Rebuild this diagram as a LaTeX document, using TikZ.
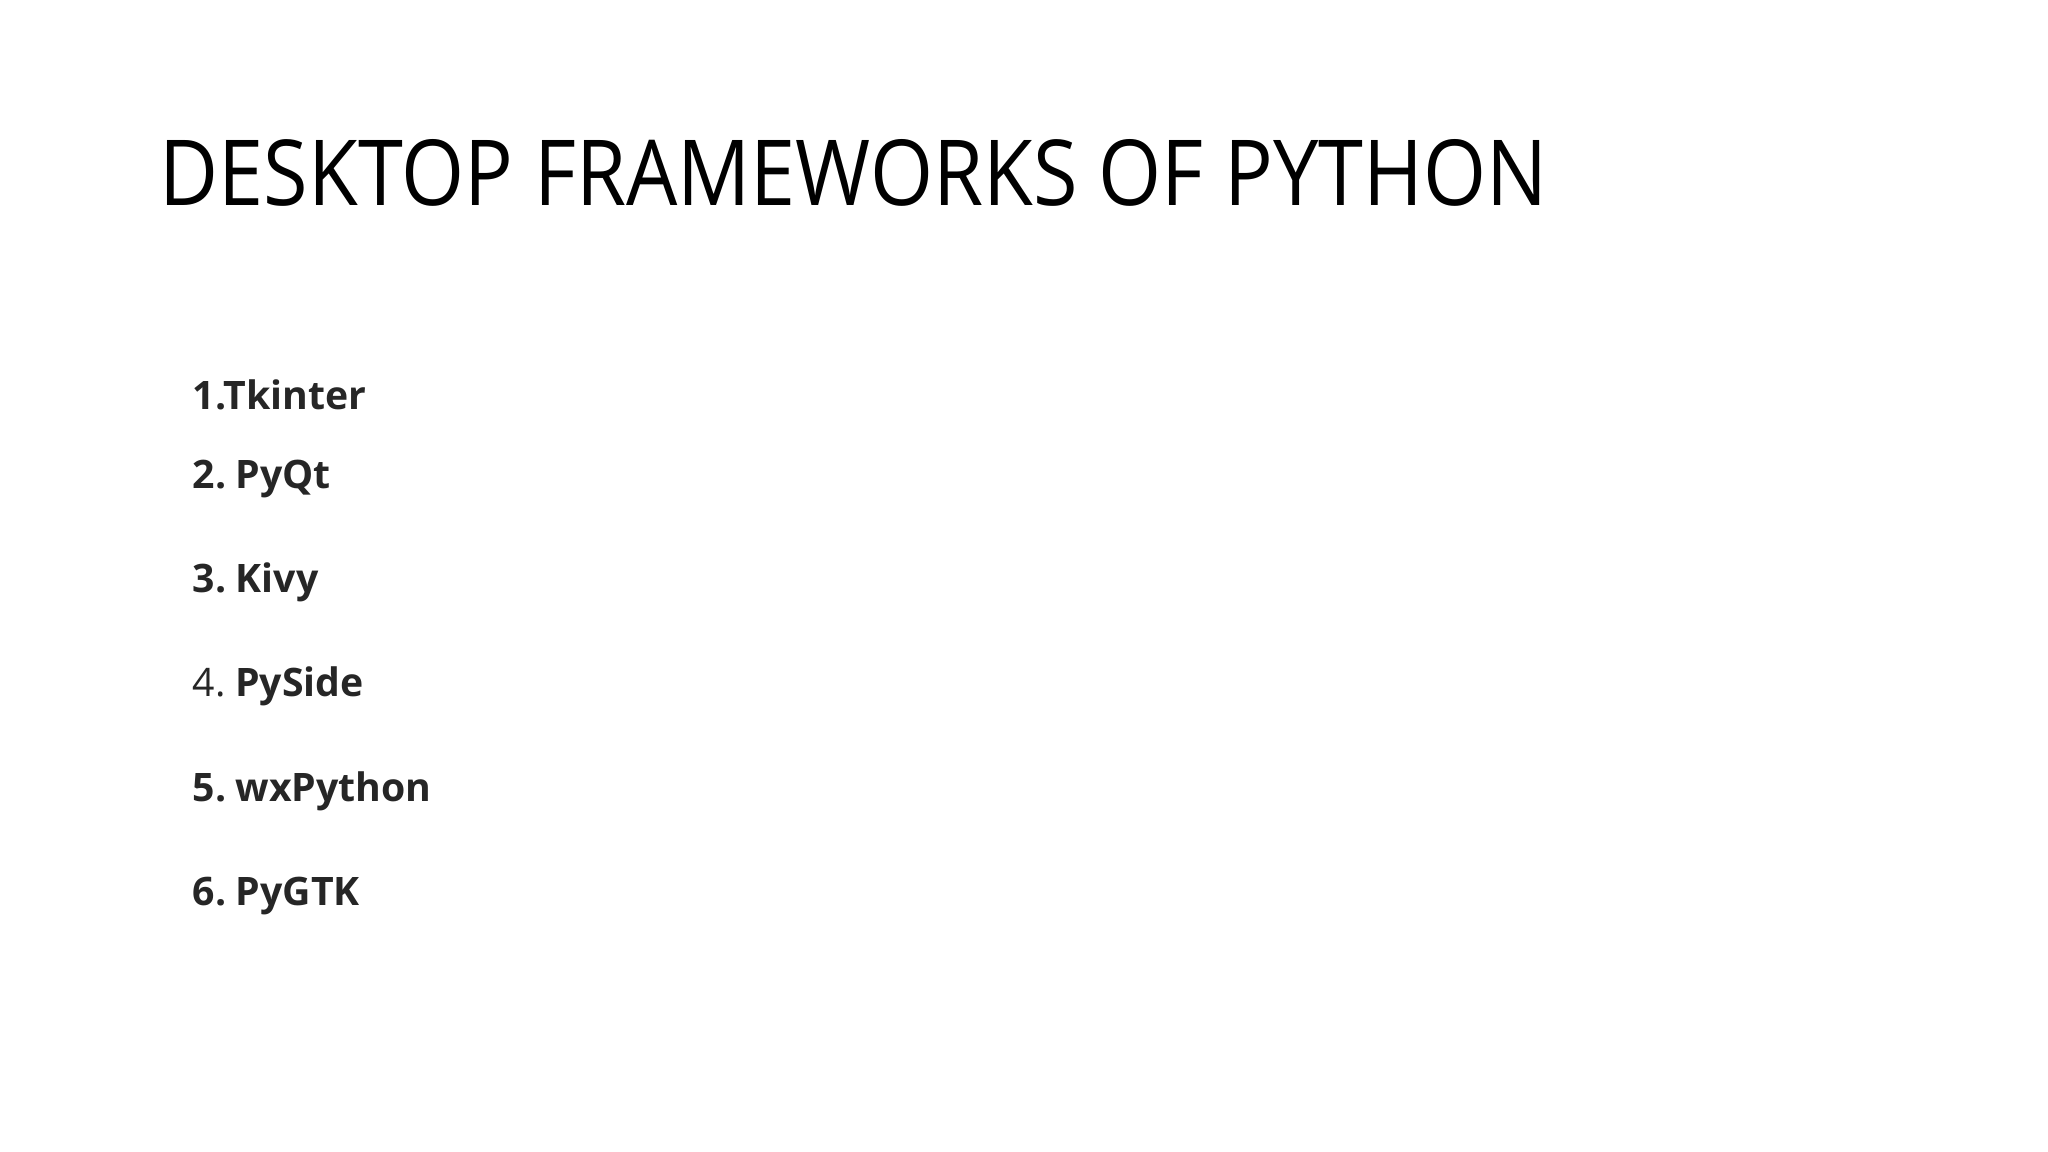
\documentclass[tikz,border=0pt]{standalone}
\usepackage{fontspec}
\setmainfont{Open Sans}[WordSpace=0.6]
\newfontfamily\lightfont{Open Sans}[FakeStretch=0.89]
\begin{document}
\begin{tikzpicture}[x=0.01cm,y=-0.01cm]
\tikzset{item/.style={anchor=base west,inner sep=0pt,text=black!85,font=\fontsize{11.15pt}{13pt}\selectfont}}
\useasboundingbox[fill=white] (0,0) rectangle (2048,1152);
\node[anchor=base west,inner sep=0pt,text=black,font=\lightfont\fontsize{25.9pt}{30pt}\selectfont] (title) at (159,206) {DESKTOP FRAMEWORKS OF PYTHON};
\node[item] (i1) at (192,410) {\textbf{1.Tkinter}};
\node[item] (i2) at (192,489) {\textbf{2. PyQt}};
\node[item] (i3) at (192,593) {\textbf{3. Kivy}};
\node[item] (i4) at (192,696) {4. \textbf{PySide}};
\node[item] (i5) at (192,801) {\textbf{5. wxPython}};
\node[item] (i6) at (192,905) {\textbf{6. PyGTK}};
\end{tikzpicture}
\end{document}
